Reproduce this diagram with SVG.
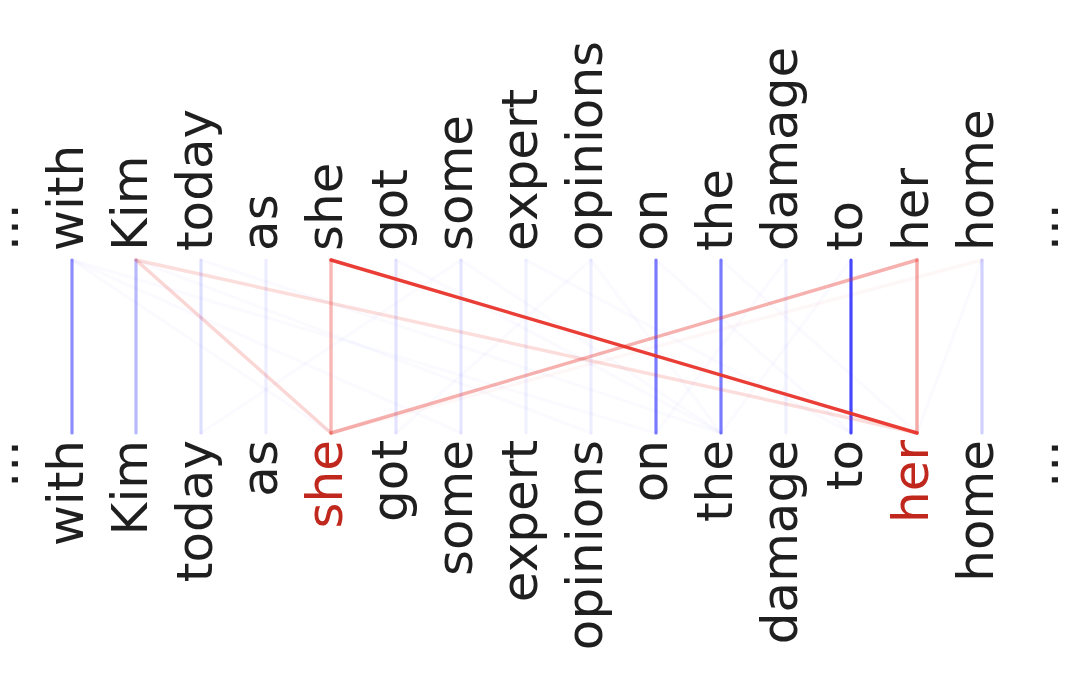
<svg xmlns="http://www.w3.org/2000/svg" width="1084" height="700" viewBox="0 0 1084 700">
<style>
.t{font-family:"DejaVu Sans","Liberation Sans",sans-serif;font-size:50px;fill:#1f1f1f}
.top{text-anchor:start}
.bot{text-anchor:end}
.hl{fill:#c0281e}
.b{stroke:#0000ff;stroke-width:3.2;stroke-linecap:round;fill:none}
.r{stroke:#e8332a;stroke-width:3.4;stroke-linecap:round;fill:none}
</style>
<rect width="1084" height="700" fill="#ffffff"/>
<g id="connectors">
<g class="b" stroke-opacity="0.02">
<line x1="72" y1="260" x2="331" y2="433"/>
<line x1="72" y1="260" x2="461" y2="433"/>
<line x1="72" y1="260" x2="656" y2="433"/>
<line x1="136" y1="260" x2="591" y2="433"/>
<line x1="201" y1="260" x2="721" y2="433"/>
<line x1="201" y1="433" x2="461" y2="260"/>
<line x1="396" y1="260" x2="721" y2="433"/>
<line x1="461" y1="260" x2="721" y2="433"/>
<line x1="526" y1="260" x2="851" y2="433"/>
<line x1="591" y1="260" x2="721" y2="433"/>
<line x1="656" y1="260" x2="851" y2="433"/>
<line x1="721" y1="260" x2="917" y2="433"/>
<line x1="786" y1="260" x2="656" y2="433"/>
<line x1="851" y1="260" x2="721" y2="433"/>
<line x1="982" y1="260" x2="917" y2="433"/>
<line x1="396" y1="433" x2="591" y2="260"/>
</g>
<line class="r" x1="982" y1="260" x2="331" y2="433" stroke-opacity="0.04"/>
<line class="b" x1="72" y1="260" x2="72" y2="433" stroke-opacity="0.45"/>
<line class="b" x1="136" y1="260" x2="136" y2="433" stroke-opacity="0.28" stroke-width="4"/>
<line class="b" x1="201" y1="260" x2="201" y2="433" stroke-opacity="0.13"/>
<line class="b" x1="266" y1="260" x2="266" y2="433" stroke-opacity="0.07"/>
<line class="b" x1="396" y1="260" x2="396" y2="433" stroke-opacity="0.11"/>
<line class="b" x1="461" y1="260" x2="461" y2="433" stroke-opacity="0.1"/>
<line class="b" x1="526" y1="260" x2="526" y2="433" stroke-opacity="0.06"/>
<line class="b" x1="591" y1="260" x2="591" y2="433" stroke-opacity="0.07"/>
<line class="b" x1="656" y1="260" x2="656" y2="433" stroke-opacity="0.52"/>
<line class="b" x1="721" y1="260" x2="721" y2="433" stroke-opacity="0.52"/>
<line class="b" x1="786" y1="260" x2="786" y2="433" stroke-opacity="0.06"/>
<line class="b" x1="851" y1="260" x2="851" y2="433" stroke-opacity="0.72"/>
<line class="b" x1="982" y1="260" x2="982" y2="433" stroke-opacity="0.18"/>
<line class="r" x1="136" y1="260" x2="917" y2="433" stroke-opacity="0.17"/>
<line class="r" x1="136" y1="260" x2="331" y2="433" stroke-opacity="0.2"/>
<line class="r" x1="331" y1="260" x2="331" y2="433" stroke-opacity="0.35"/>
<line class="r" x1="917" y1="260" x2="917" y2="433" stroke-opacity="0.42"/>
<line class="r" x1="917" y1="260" x2="331" y2="433" stroke-opacity="0.38"/>
<line class="r" x1="331" y1="260" x2="917" y2="433" stroke-opacity="0.95"/>
</g>
<g id="top-labels">
<g id="top-dots-left"><text class="t top" transform="translate(18,251) rotate(-90)">...</text></g>
<g id="top-with"><text class="t top" transform="translate(83,251) rotate(-90)">with</text></g>
<g id="top-Kim"><text class="t top" transform="translate(147,251) rotate(-90)">Kim</text></g>
<g id="top-today"><text class="t top" transform="translate(212,251) rotate(-90)">today</text></g>
<g id="top-as"><text class="t top" transform="translate(277,251) rotate(-90)">as</text></g>
<g id="top-she"><text class="t top" transform="translate(342,251) rotate(-90)">she</text></g>
<g id="top-got"><text class="t top" transform="translate(407,251) rotate(-90)">got</text></g>
<g id="top-some"><text class="t top" transform="translate(472,251) rotate(-90)">some</text></g>
<g id="top-expert"><text class="t top" transform="translate(537,251) rotate(-90)">expert</text></g>
<g id="top-opinions"><text class="t top" transform="translate(602,251) rotate(-90)">opinions</text></g>
<g id="top-on"><text class="t top" transform="translate(667,251) rotate(-90)">on</text></g>
<g id="top-the"><text class="t top" transform="translate(732,251) rotate(-90)">the</text></g>
<g id="top-damage"><text class="t top" transform="translate(797,251) rotate(-90)">damage</text></g>
<g id="top-to"><text class="t top" transform="translate(862,251) rotate(-90)">to</text></g>
<g id="top-her"><text class="t top" transform="translate(928,251) rotate(-90)">her</text></g>
<g id="top-home"><text class="t top" transform="translate(993,251) rotate(-90)">home</text></g>
<g id="top-dots-right"><text class="t top" transform="translate(1058,251) rotate(-90)">...</text></g>
</g>
<g id="bottom-labels">
<g id="bot-dots-left"><text class="t bot" transform="translate(18,440) rotate(-90)">...</text></g>
<g id="bot-with"><text class="t bot" transform="translate(83,440) rotate(-90)">with</text></g>
<g id="bot-Kim"><text class="t bot" transform="translate(147,440) rotate(-90)">Kim</text></g>
<g id="bot-today"><text class="t bot" transform="translate(212,440) rotate(-90)">today</text></g>
<g id="bot-as"><text class="t bot" transform="translate(277,440) rotate(-90)">as</text></g>
<g id="bot-she"><text class="t bot hl" transform="translate(342,440) rotate(-90)">she</text></g>
<g id="bot-got"><text class="t bot" transform="translate(407,440) rotate(-90)">got</text></g>
<g id="bot-some"><text class="t bot" transform="translate(472,440) rotate(-90)">some</text></g>
<g id="bot-expert"><text class="t bot" transform="translate(537,440) rotate(-90)">expert</text></g>
<g id="bot-opinions"><text class="t bot" transform="translate(602,440) rotate(-90)">opinions</text></g>
<g id="bot-on"><text class="t bot" transform="translate(667,440) rotate(-90)">on</text></g>
<g id="bot-the"><text class="t bot" transform="translate(732,440) rotate(-90)">the</text></g>
<g id="bot-damage"><text class="t bot" transform="translate(797,440) rotate(-90)">damage</text></g>
<g id="bot-to"><text class="t bot" transform="translate(862,440) rotate(-90)">to</text></g>
<g id="bot-her"><text class="t bot hl" transform="translate(928,440) rotate(-90)">her</text></g>
<g id="bot-home"><text class="t bot" transform="translate(993,440) rotate(-90)">home</text></g>
<g id="bot-dots-right"><text class="t bot" transform="translate(1058,440) rotate(-90)">...</text></g>
</g>
</svg>
